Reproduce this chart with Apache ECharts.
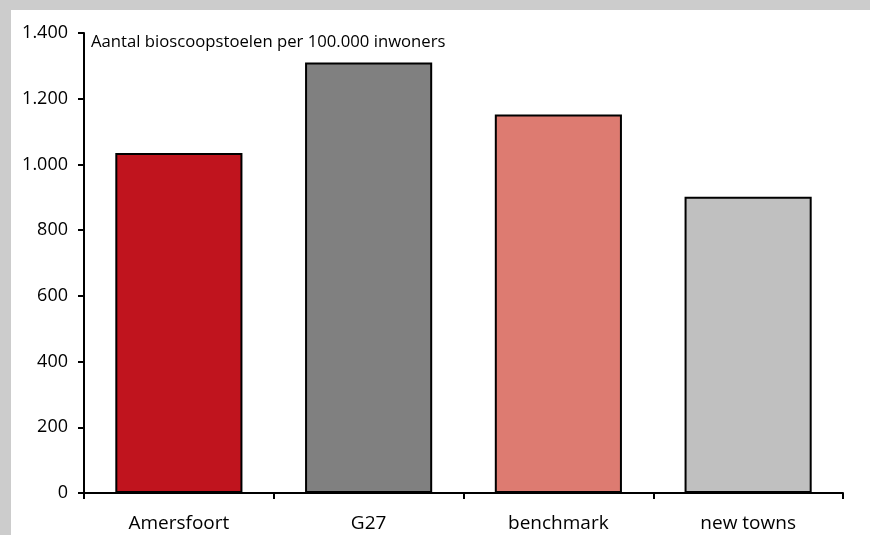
<!DOCTYPE html>
<html>
<head>
<meta charset="utf-8">
<script src="https://cdn.jsdelivr.net/npm/echarts@6/dist/echarts.min.js"></script>
<style>
html,body{margin:0;padding:0;background:#fff;}
#chart{width:870px;height:535px;}
</style>
</head>
<body>
<div id="chart"></div>
<script>
const categories = ['Amersfoort', 'G27', 'benchmark', 'new towns'];
const values = [1035, 1310, 1152, 902];
const barColors = ['#C0141E', '#808080', '#DD7B71', '#C0C0C0'];
const yTicks = [0, 200, 400, 600, 800, 1000, 1200, 1400];
const annotation = 'Aantal bioscoopstoelen per 100.000 inwoners';

const chart = echarts.init(document.getElementById('chart'));
const fontFam = '"Open Sans", "Noto Sans", sans-serif';
chart.setOption({
  animation: false,
  backgroundColor: '#fff',
  grid: { left: 84, right: 27, top: 33, bottom: 42, containLabel: false },
  graphic: [
    { type: 'rect', left: 0, top: 0, shape: { width: 870, height: 10 }, style: { fill: '#cccccc' }, z: 100 },
    { type: 'rect', left: 0, top: 0, shape: { width: 11, height: 535 }, style: { fill: '#cccccc' }, z: 100 },
    { type: 'text', left: 91, top: 34, style: { text: annotation, font: '16.7px ' + fontFam, fill: '#000' }, z: 100 }
  ],
  xAxis: {
    type: 'category',
    data: categories,
    axisLine: { lineStyle: { color: '#000', width: 2 } },
    axisTick: { show: true, length: 6, lineStyle: { color: '#000', width: 2 } },
    axisLabel: { color: '#000', fontSize: 19, fontFamily: fontFam, margin: 21 }
  },
  yAxis: {
    type: 'value',
    min: 0, max: 1400, interval: 200,
    splitLine: { show: false },
    axisLine: { show: true, lineStyle: { color: '#000', width: 2 } },
    axisTick: { show: true, length: 6, lineStyle: { color: '#000', width: 2 } },
    axisLabel: {
      color: '#000', fontSize: 18, fontFamily: fontFam, margin: 16,
      formatter: v => yTicks.includes(v) ? v.toLocaleString('de-DE') : ''
    }
  },
  series: [{
    type: 'bar',
    data: values.map((v, i) => ({ value: v, itemStyle: { color: barColors[i] } })),
    barCategoryGap: '33%',
    itemStyle: { borderColor: '#000', borderWidth: 2 }
  }]
});
</script>
</body>
</html>
